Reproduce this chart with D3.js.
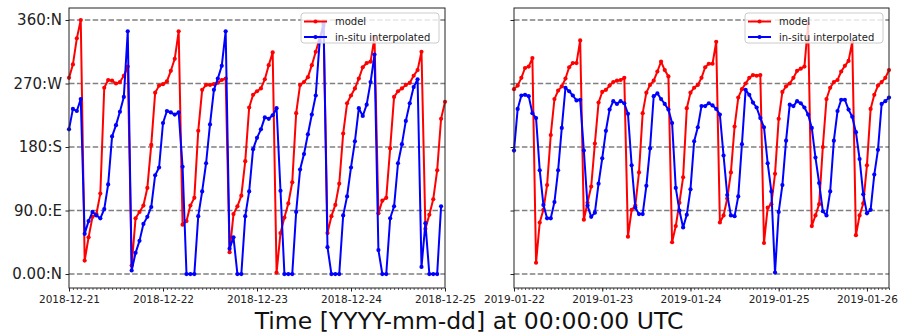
<!DOCTYPE html>
<html>
<head>
<meta charset="utf-8">
<script src="https://cdn.jsdelivr.net/npm/d3@7"></script>
<style>
  body { margin: 0; background: #fff; }
  svg { display: block; font-family: "DejaVu Sans", sans-serif; }
</style>
</head>
<body>
<svg id="chart" width="899" height="335"></svg>
<script>
const seriesNames = ['model', 'in-situ interpolated'];
const seriesColors = ['#ff0000', '#0000ff'];
const yTicks = [0, 90, 180, 270, 360];
const yTickLabels = ['0.00:N', '90.0:E', '180:S', '270:W', '360:N'];

const leftRange = ['2018-12-21T00:00:00Z', '2018-12-25T00:00:00Z'];
const rightRange = ['2019-01-22T00:00:00Z', '2019-01-26T06:00:00Z'];

// hourly values, first one at the start of the range
const leftModel = [278, 297, 334, 360, 19, 52, 81, 85, 114, 264, 275, 274, 270, 272, 281, 294,
    12, 79, 88, 97, 122, 183, 257, 267, 269, 273, 288, 305, 344, 70, 75, 97,
    108, 203, 261, 268, 268, 269, 271, 275, 277, 31, 85, 96, 111, 160, 236, 254,
    259, 263, 276, 296, 314, 2, 58, 80, 100, 130, 228, 268, 272, 279, 296, 315,
    334, 352, 58, 82, 98, 128, 199, 242, 253, 263, 277, 293, 299, 301, 335, 86,
    104, 108, 178, 251, 259, 263, 268, 271, 281, 289, 315, 64, 84, 106, 147, 220, 244];
const leftInsitu = [205, 234, 231, 248, 57, 75, 88, 83, 79, 92, 127, 195, 211, 230, 251, 344,
    5, 30, 47, 71, 81, 95, 140, 151, 214, 231, 229, 226, 229, 152, 0, 0,
    0, 82, 117, 157, 212, 261, 277, 295, 344, 36, 52, 0, 0, 82, 117, 177,
    193, 205, 222, 220, 225, 235, 118, 0, 0, 0, 88, 148, 170, 198, 226, 253,
    330, 355, 38, 0, 0, 0, 83, 110, 151, 188, 235, 224, 240, 272, 311, 34,
    0, 0, 79, 96, 157, 184, 217, 242, 265, 276, 10, 72, 0, 0, 0, 96];
const rightModel = [262, 267, 278, 292, 294, 306, 16, 73, 91, 126, 197, 248, 260, 266, 277, 293,
    299, 299, 331, 77, 101, 124, 185, 243, 258, 261, 267, 272, 274, 275, 278, 53,
    91, 97, 144, 228, 257, 268, 274, 287, 301, 289, 280, 45, 68, 101, 137, 235,
    257, 264, 268, 278, 293, 298, 298, 329, 73, 83, 107, 144, 209, 250, 262, 270,
    278, 282, 281, 282, 44, 94, 99, 142, 220, 258, 266, 270, 278, 288, 291, 294,
    355, 68, 83, 99, 180, 248, 264, 272, 275, 287, 295, 302, 329, 55, 83, 100,
    154, 234, 254, 267, 272, 278, 289];
const rightInsitu = [175, 234, 253, 254, 252, 228, 221, 147, 98, 79, 79, 102, 147, 207, 264, 259,
    253, 246, 247, 175, 97, 81, 87, 128, 164, 203, 233, 245, 241, 245, 242, 227,
    154, 94, 85, 85, 125, 178, 252, 256, 248, 241, 233, 214, 122, 90, 66, 84,
    120, 188, 208, 238, 238, 242, 239, 234, 226, 168, 112, 83, 82, 110, 184, 261,
    254, 243, 236, 221, 208, 157, 117, 2, 88, 126, 189, 240, 238, 245, 242, 236,
    226, 207, 165, 129, 89, 83, 117, 189, 231, 247, 247, 233, 223, 201, 163, 113,
    86, 91, 141, 176, 241, 245, 250];

const svg = d3.select('#chart');
const plotTop = 8, plotBottom = 288;
const y = d3.scaleLinear().domain([-19.8, 377]).range([plotBottom, plotTop]);

function toPoints(startIso, values) {
    const start = new Date(startIso);
    return values.map((v, i) => ({t: d3.utcHour.offset(start, i), v: v}));
}

function drawPanel(left, right, range, series, showYLabels) {
    const x = d3.scaleUtc()
        .domain(range.map(d => new Date(d)))
        .range([left, right]);
    const g = svg.append('g');

    // dashed grid
    g.selectAll('.grid')
        .data(yTicks)
        .enter()
        .append('line')
        .attr('x1', left).attr('x2', right)
        .attr('y1', d => y(d)).attr('y2', d => y(d))
        .attr('stroke', '#808080')
        .attr('stroke-width', 1.4)
        .attr('stroke-dasharray', '5.5,2.4');

    const line = d3.line()
        .x(d => x(d.t))
        .y(d => y(d.v));

    series.forEach((s, i) => {
        const pts = toPoints(range[0], s);
        g.append('path')
            .datum(pts)
            .attr('d', line)
            .attr('fill', 'none')
            .attr('stroke', seriesColors[i])
            .attr('stroke-width', 2)
            .attr('stroke-linejoin', 'round');
        g.selectAll('.dot' + i)
            .data(pts)
            .enter()
            .append('circle')
            .attr('cx', d => x(d.t))
            .attr('cy', d => y(d.v))
            .attr('r', 2.1)
            .attr('fill', seriesColors[i]);
    });

    // x axis: minor hourly ticks and daily labels
    const days = d3.utcDay.range(x.domain()[0], d3.utcHour.offset(x.domain()[1], 1));
    g.append('g')
        .attr('transform', `translate(0,${plotBottom})`)
        .call(d3.axisBottom(x).ticks(d3.utcHour.every(1)).tickSize(2).tickFormat(''))
        .call(a => a.select('.domain').remove())
        .call(a => a.selectAll('line').attr('stroke', '#333').attr('stroke-width', 0.8));
    g.append('g')
        .attr('transform', `translate(0,${plotBottom})`)
        .call(d3.axisBottom(x).tickValues(days).tickSize(3.5).tickPadding(4.5)
            .tickFormat(d3.utcFormat('%Y-%m-%d')))
        .call(a => a.select('.domain').remove())
        .call(a => a.selectAll('line').attr('stroke', '#222'))
        .call(a => a.selectAll('text')
            .attr('font-family', '"DejaVu Sans", sans-serif')
            .attr('font-size', 10.5)
            .attr('fill', '#222'));

    // y axis
    const yAxis = d3.axisLeft(y).tickValues(yTicks).tickSize(3.5).tickPadding(3.5)
        .tickFormat((d, i) => showYLabels ? yTickLabels[i] : '');
    g.append('g')
        .attr('transform', `translate(${left},0)`)
        .call(yAxis)
        .call(a => a.select('.domain').remove())
        .call(a => a.selectAll('line').attr('stroke', '#222'))
        .call(a => a.selectAll('text')
            .attr('font-family', '"DejaVu Sans", sans-serif')
            .attr('font-size', 15)
            .attr('fill', '#222'));

    // frame
    g.append('rect')
        .attr('x', left).attr('y', plotTop)
        .attr('width', right - left).attr('height', plotBottom - plotTop)
        .attr('fill', 'none')
        .attr('stroke', '#222')
        .attr('stroke-width', 1);

    // legend
    const lw = 138, lh = 30;
    const lx = right - 6 - lw, ly = plotTop + 5;
    const leg = g.append('g').attr('transform', `translate(${lx},${ly})`);
    leg.append('rect')
        .attr('width', lw).attr('height', lh)
        .attr('rx', 3)
        .attr('fill', '#fff').attr('fill-opacity', 0.8)
        .attr('stroke', '#cccccc');
    seriesNames.forEach((name, i) => {
        const yy = 8.5 + i * 15.5;
        leg.append('line')
            .attr('x1', 3).attr('x2', 26)
            .attr('y1', yy).attr('y2', yy)
            .attr('stroke', seriesColors[i])
            .attr('stroke-width', 2);
        leg.append('circle')
            .attr('cx', 14.5).attr('cy', yy).attr('r', 2.1)
            .attr('fill', seriesColors[i]);
        leg.append('text')
            .attr('x', 34).attr('y', yy + 3.6)
            .attr('font-size', 10)
            .attr('fill', '#222')
            .text(name);
    });
}

drawPanel(69, 445, leftRange, [leftModel, leftInsitu], true);
drawPanel(514, 889, rightRange, [rightModel, rightInsitu], false);

svg.append('text')
    .attr('x', 469)
    .attr('y', 329)
    .attr('text-anchor', 'middle')
    .attr('font-size', 23.5)
    .attr('fill', '#111')
    .text('Time [YYYY-mm-dd] at 00:00:00 UTC');
</script>
</body>
</html>
